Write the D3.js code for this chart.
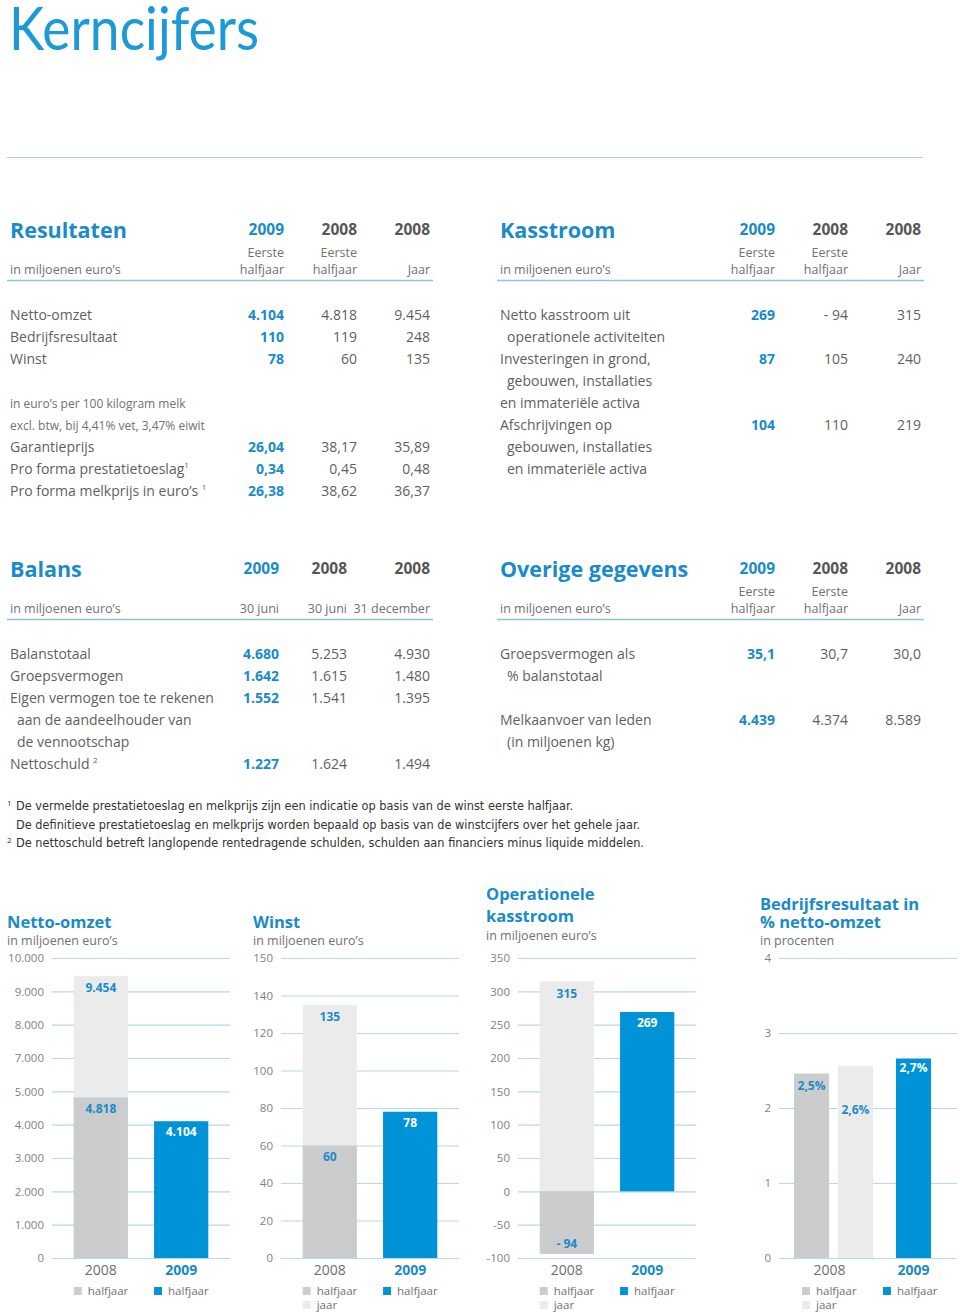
<!DOCTYPE html>
<html><head><meta charset="utf-8">
<script src="https://cdn.jsdelivr.net/npm/d3@7"></script>
<style>body{margin:0;background:#fff}svg{display:block}</style>
</head><body>
<script>
// ===================== DATA =====================
const pageTitle = "Kerncijfers";

const resultatenHeaders = ["2009", "2008", "2008"];
const resultatenSub1 = ["Eerste", "Eerste", ""];
const resultatenSub2 = ["halfjaar", "halfjaar", "Jaar"];
const resultatenRows = [
  ["Netto-omzet", "4.104", "4.818", "9.454"],
  ["Bedrijfsresultaat", "110", "119", "248"],
  ["Winst", "78", "60", "135"],
  [""],
  ["in euro’s per 100 kilogram melk", "", "", "", "s"],
  ["excl. btw, bij 4,41% vet, 3,47% eiwit", "", "", "", "s"],
  ["Garantieprijs", "26,04", "38,17", "35,89"],
  ["Pro forma prestatietoeslag", "0,34", "0,45", "0,48", "", "1"],
  ["Pro forma melkprijs in euro’s ", "26,38", "38,62", "36,37", "", "1"]
];

const kasstroomHeaders = ["2009", "2008", "2008"];
const kasstroomSub1 = ["Eerste", "Eerste", ""];
const kasstroomSub2 = ["halfjaar", "halfjaar", "Jaar"];
const kasstroomRows = [
  ["Netto kasstroom uit", "269", "- 94", "315"],
  ["operationele activiteiten", "", "", "", "i"],
  ["Investeringen in grond,", "87", "105", "240"],
  ["gebouwen, installaties", "", "", "", "i"],
  ["en immateriële activa"],
  ["Afschrijvingen op", "104", "110", "219"],
  ["gebouwen, installaties", "", "", "", "i"],
  ["en immateriële activa", "", "", "", "i"]
];

const balansHeaders = ["2009", "2008", "2008"];
const balansSub1 = ["", "", ""];
const balansSub2 = ["30 juni", "30 juni", "31 december"];
const balansRows = [
  ["Balanstotaal", "4.680", "5.253", "4.930"],
  ["Groepsvermogen", "1.642", "1.615", "1.480"],
  ["Eigen vermogen toe te rekenen", "1.552", "1.541", "1.395"],
  ["aan de aandeelhouder van", "", "", "", "i"],
  ["de vennootschap", "", "", "", "i"],
  ["Nettoschuld ", "1.227", "1.624", "1.494", "", "2"]
];

const overigeHeaders = ["2009", "2008", "2008"];
const overigeSub1 = ["Eerste", "Eerste", ""];
const overigeSub2 = ["halfjaar", "halfjaar", "Jaar"];
const overigeRows = [
  ["Groepsvermogen als", "35,1", "30,7", "30,0"],
  ["% balanstotaal", "", "", "", "i"],
  [""],
  ["Melkaanvoer van leden", "4.439", "4.374", "8.589"],
  ["(in miljoenen kg)", "", "", "", "i"]
];

const footnotes = [
  ["1", "De vermelde prestatietoeslag en melkprijs zijn een indicatie op basis van de winst eerste halfjaar."],
  ["", "De definitieve prestatietoeslag en melkprijs worden bepaald op basis van de winstcijfers over het gehele jaar."],
  ["2", "De nettoschuld betreft langlopende rentedragende schulden, schulden aan financiers minus liquide middelen."]
];

// bar charts
const chartYears = ["2008", "2009"];
const legendLabels = ["halfjaar", "halfjaar", "jaar"];

const omzetHalfjaar = [4818, 4104];      // 2008 H1, 2009 H1
const omzetJaar = [9454];                // 2008 jaar
const omzetTicks = [0, 1000, 2000, 3000, 4000, 5000, 7000, 8000, 9000, 10000];

const winstHalfjaar = [60, 78];
const winstJaar = [135];
const winstTicks = [0, 20, 40, 60, 80, 100, 120, 140, 150];

const kasHalfjaar = [-94, 269];
const kasJaar = [315];
const kasTicks = [-100, -50, 0, 50, 100, 150, 200, 250, 300, 350];

const brHalfjaar = [2.46, 2.66];         // percentages
const brJaar = [2.56];
const brTicks = [0, 1, 2, 3, 4];

// ===================== STYLE =====================
const FONT = "'Open Sans', 'DejaVu Sans', sans-serif";
const BLUE_T = "#1a8bc9", BLUE_BAR = "#0093d8", BLUE_HEAD = "#1b9ad7";
const GRAY_BAR = "#cbcccd", LIGHT_BAR = "#ebebec";
const GRID = "#b5d8ea", TXT = "#5e5f61", TXT2 = "#707173", RULE = "#8ac6d7";

const nl = d3.formatLocale({decimal: ",", thousands: ".", grouping: [3], currency: ["€", ""], minus: "-"});
const fmtInt = nl.format(",");
const fmtSigned = v => v < 0 ? "- " + fmtInt(-v) : fmtInt(v);
const fmtPct = v => nl.format(".1f")(v) + "%";

const svg = d3.select("body").append("svg").attr("width", 960).attr("height", 1312)
  .style("font-family", FONT);

// ===================== PAGE TITLE =====================
svg.append("text").attr("x", 9).attr("y", 50).text(pageTitle)
  .attr("font-family", "Lato, 'Open Sans', sans-serif").attr("font-weight", 400)
  .attr("font-size", 60).attr("fill", BLUE_HEAD)
  .attr("textLength", 250).attr("lengthAdjust", "spacingAndGlyphs");
svg.append("line").attr("x1", 7).attr("x2", 923).attr("y1", 157.5).attr("y2", 157.5)
  .attr("stroke", "#a9d1e4").attr("stroke-width", 1);

// ===================== TABLES =====================
function drawTable(c) {
  const g = svg.append("g");
  g.append("text").attr("x", c.x).attr("y", c.top + 3).text(c.title)
    .attr("font-size", 21.5).attr("font-weight", 700).attr("fill", BLUE_T);
  g.selectAll(".hd").data(c.headers).join("text")
    .attr("x", (d, i) => c.cols[i]).attr("y", c.top).attr("text-anchor", "end")
    .attr("font-size", 15.5).attr("font-weight", 700)
    .attr("fill", (d, i) => i === 0 ? BLUE_T : "#555658").text(d => d);
  g.selectAll(".s1").data(c.sub1).join("text")
    .attr("x", (d, i) => c.cols[i]).attr("y", c.top + 22).attr("text-anchor", "end")
    .attr("font-size", 12.5).attr("fill", TXT2).text(d => d);
  g.selectAll(".s2").data(c.sub2).join("text")
    .attr("x", (d, i) => c.cols[i]).attr("y", c.top + 39).attr("text-anchor", "end")
    .attr("font-size", 12.5).attr("fill", TXT2).text(d => d);
  g.append("text").attr("x", c.x).attr("y", c.top + 39).text("in miljoenen euro’s")
    .attr("font-size", 12.5).attr("fill", TXT2);
  g.append("line").attr("x1", c.x - 3).attr("x2", c.cols[2] + 3)
    .attr("y1", c.top + 45.5).attr("y2", c.top + 45.5)
    .attr("stroke", RULE).attr("stroke-width", 1.6);

  const rows = g.selectAll(".row").data(c.rows).join("g")
    .attr("transform", (d, i) => `translate(0,${c.rowY + i * 22})`);
  const lab = rows.append("text")
    .attr("x", d => c.x + (d[4] === "i" ? 7 : 0))
    .attr("font-size", d => d[4] === "s" ? 12 : 14)
    .attr("fill", d => d[4] === "s" ? TXT2 : TXT);
  lab.append("tspan").text(d => d[0]);
  lab.filter(d => d[5]).append("tspan").text(d => d[5])
    .attr("font-size", 8).attr("dy", -6);
  [1, 2, 3].forEach(k => {
    rows.filter(d => d[k]).append("text")
      .attr("x", c.cols[k - 1]).attr("text-anchor", "end")
      .attr("font-size", 14).attr("font-weight", k === 1 ? 700 : 400)
      .attr("fill", k === 1 ? BLUE_T : TXT).text(d => d[k]);
  });
}

drawTable({title: "Resultaten", x: 10, top: 235, cols: [284, 357, 430], rowY: 320,
  headers: resultatenHeaders, sub1: resultatenSub1, sub2: resultatenSub2, rows: resultatenRows});
drawTable({title: "Kasstroom", x: 500, top: 235, cols: [775, 848, 921], rowY: 320,
  headers: kasstroomHeaders, sub1: kasstroomSub1, sub2: kasstroomSub2, rows: kasstroomRows});
drawTable({title: "Balans", x: 10, top: 574, cols: [279, 347, 430], rowY: 659,
  headers: balansHeaders, sub1: balansSub1, sub2: balansSub2, rows: balansRows});
drawTable({title: "Overige gegevens", x: 500, top: 574, cols: [775, 848, 921], rowY: 659,
  headers: overigeHeaders, sub1: overigeSub1, sub2: overigeSub2, rows: overigeRows});

// ===================== FOOTNOTES =====================
const fnLen = [557, 624, 628];
const fn = svg.selectAll(".fn").data(footnotes).join("g")
  .attr("transform", (d, i) => `translate(0,${810 + i * 18.5})`);
fn.append("text").attr("x", 7).attr("y", -4).attr("font-size", 8).attr("fill", "#333")
  .text(d => d[0]);
fn.append("text").attr("x", 16).attr("font-size", 12.5).attr("fill", "#333")
  .attr("font-family", "'Liberation Sans Narrow','DejaVu Sans Condensed',sans-serif")
  .attr("textLength", (d, i) => fnLen[i]).attr("lengthAdjust", "spacingAndGlyphs")
  .text(d => d[1]);

// ===================== BAR CHARTS =====================
const TOP = 958, BOT = 1258, GW = 178;

function drawChart(c) {
  const g = svg.append("g");
  c.titleLines.forEach((t, i) => g.append("text").attr("x", c.tx).attr("y", c.titleY + i * c.lineStep)
    .text(t).attr("font-size", 16.5).attr("font-weight", 700).attr("fill", BLUE_T));
  g.append("text").attr("x", c.tx).attr("y", c.subY).text(c.subtitle)
    .attr("font-size", 12.5).attr("fill", TXT2);

  const y = d3.scaleLinear().domain(c.ticks)
    .range(c.ticks.map((_, i) => BOT - i * (BOT - TOP) / (c.ticks.length - 1)));
  const x = d3.scaleBand().domain(chartYears).range([0, GW])
    .paddingInner(0.325).paddingOuter(0.27);

  const ax = g.append("g").attr("transform", `translate(${c.gx},0)`)
    .call(d3.axisLeft(y).tickValues(c.ticks).tickFormat(c.tickFmt).tickSize(-GW).tickPadding(8));
  ax.select(".domain").remove();
  ax.selectAll(".tick line").attr("stroke", GRID).attr("stroke-width", 1.2);
  ax.selectAll(".tick text").attr("fill", "#808184").attr("font-size", 11.5)
    .attr("font-family", FONT);

  const bars = g.append("g").attr("transform", `translate(${c.gx},0)`);
  const y0 = y(0);
  const rect = (x0, w, v, fill) => bars.append("rect").attr("x", x0).attr("width", w)
    .attr("y", Math.min(y(v), y0)).attr("height", Math.abs(y(v) - y0)).attr("fill", fill);
  const label = (cx, yy, txt, fill) => bars.append("text").attr("x", cx).attr("y", yy)
    .attr("text-anchor", "middle").attr("dy", "0.35em").attr("font-size", 12)
    .attr("font-weight", 700).attr("fill", fill).text(txt);

  let legendX;
  if (!c.split) {
    const bx = x("2008"), bw = x.bandwidth();
    rect(bx, bw, c.jaar[0], LIGHT_BAR);
    rect(bx, bw, c.half[0], GRAY_BAR);
    rect(x("2009"), bw, c.half[1], BLUE_BAR);
    label(bx + bw / 2, y(c.jaar[0]) + 12, c.fmt(c.jaar[0]), BLUE_T);
    if (c.half[0] < 0) label(bx + bw / 2, y(c.half[0]) - 10, c.fmt(c.half[0]), BLUE_T);
    else label(bx + bw / 2, y(c.half[0]) + 11, c.fmt(c.half[0]), BLUE_T);
    label(x("2009") + bw / 2, y(c.half[1]) + 11, c.fmt(c.half[1]), "#fff");
    legendX = [x("2008"), x("2009")];
  } else {
    const yb = d3.scaleBand().domain(chartYears).range([15, 173]);
    const sub = d3.scaleBand().domain(["halfjaar", "jaar"]).range([0, yb.bandwidth()]).paddingInner(0.2);
    const bw = sub.bandwidth();
    const x08 = yb("2008");
    const x09 = yb("2009") + (yb.bandwidth() - bw) / 2 + 1;
    rect(x08 + sub("halfjaar"), bw, c.half[0], GRAY_BAR);
    rect(x08 + sub("jaar"), bw, c.jaar[0], LIGHT_BAR);
    rect(x09, bw, c.half[1], BLUE_BAR);
    label(x08 + sub("halfjaar") + bw / 2, y(c.half[0]) + 12, c.fmt(c.half[0]), BLUE_T);
    label(x08 + sub("jaar") + bw / 2, y(c.jaar[0]) + 44, c.fmt(c.jaar[0]), BLUE_T);
    label(x09 + bw / 2, y(c.half[1]) + 9, c.fmt(c.half[1]), "#fff");
    legendX = [x08 + 8, x09 - 13];
    c.catX = [x08 + yb.bandwidth() / 2 - 4, x09 + bw / 2];
  }
  const catX = c.catX || [x("2008") + x.bandwidth() / 2, x("2009") + x.bandwidth() / 2];
  chartYears.forEach((yr, i) => bars.append("text").attr("x", catX[i]).attr("y", 1275)
    .attr("text-anchor", "middle").attr("font-size", 14)
    .attr("font-weight", i ? 700 : 400).attr("fill", i ? BLUE_T : "#6d6e70").text(yr));

  const items = [
    {x: legendX[0], row: 0, fill: GRAY_BAR, t: legendLabels[0]},
    {x: legendX[1], row: 0, fill: BLUE_BAR, t: legendLabels[1]}
  ];
  if (c.showJaar) items.push({x: legendX[0], row: 1, fill: LIGHT_BAR, t: legendLabels[2]});
  const li = bars.selectAll(".lg").data(items).join("g")
    .attr("transform", d => `translate(${d.x},${1287 + d.row * 14})`);
  li.append("rect").attr("width", 8).attr("height", 8).attr("fill", d => d.fill);
  li.append("text").attr("x", 14).attr("y", 7.5).attr("font-size", 11.5)
    .attr("fill", TXT2).text(d => d.t);
}

drawChart({titleLines: ["Netto-omzet"], titleY: 928, lineStep: 0, subtitle: "in miljoenen euro’s", subY: 945,
  tx: 7, gx: 52, ticks: omzetTicks, tickFmt: fmtInt, fmt: fmtInt,
  half: omzetHalfjaar, jaar: omzetJaar, showJaar: false});
drawChart({titleLines: ["Winst"], titleY: 928, lineStep: 0, subtitle: "in miljoenen euro’s", subY: 945,
  tx: 253, gx: 281, ticks: winstTicks, tickFmt: fmtInt, fmt: fmtInt,
  half: winstHalfjaar, jaar: winstJaar, showJaar: true});
drawChart({titleLines: ["Operationele", "kasstroom"], titleY: 900, lineStep: 22, subtitle: "in miljoenen euro’s", subY: 940,
  tx: 486, gx: 518, ticks: kasTicks, tickFmt: fmtInt, fmt: fmtSigned,
  half: kasHalfjaar, jaar: kasJaar, showJaar: true});
drawChart({titleLines: ["Bedrijfsresultaat in", "% netto-omzet"], titleY: 910, lineStep: 18, subtitle: "in procenten", subY: 945,
  tx: 760, gx: 779, ticks: brTicks, tickFmt: fmtInt, fmt: fmtPct,
  half: brHalfjaar, jaar: brJaar, showJaar: true, split: true});
</script>
</body></html>
